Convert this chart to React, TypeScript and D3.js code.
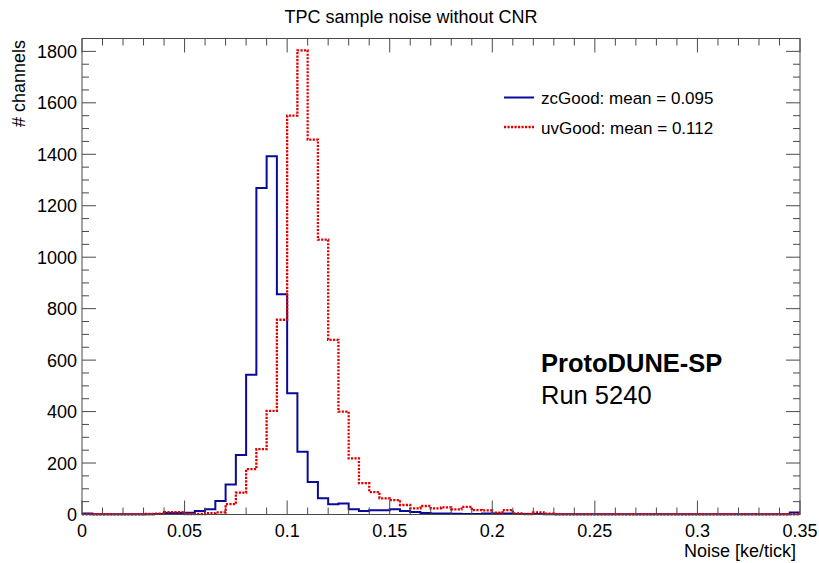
import React from "react";
import * as d3 from "d3";

const binEdges0 = 0;
const binWidth = 0.005;
const zcGood = [
  4, 1, 1, 1, 1, 1, 1, 2, 6, 6,
  7, 14, 20, 52, 117, 231, 543, 1269, 1392, 856,
  471, 244, 126, 63, 40, 43, 20, 14, 17, 17,
  20, 14, 10, 6, 4, 4, 3, 2, 2, 4,
  4, 4, 2, 2, 2, 1, 1, 1, 1, 1,
  1, 1, 1, 1, 1, 1, 1, 1, 1, 1,
  1, 1, 1, 1, 1, 1, 1, 1, 1, 8,
];
const uvGood = [
  1, 1, 1, 1, 1, 1, 2, 3, 9, 9,
  2, 2, 5, 8, 40, 85, 176, 254, 403, 757,
  1550, 1804, 1457, 1068, 679, 400, 218, 122, 87, 63,
  56, 37, 24, 33, 24, 28, 20, 30, 17, 16,
  7, 17, 4, 2, 8, 3, 1, 1, 1, 1,
  1, 1, 1, 1, 1, 1, 1, 1, 1, 1,
  1, 1, 1, 1, 1, 1, 1, 1, 1, 1,
];
const xTicks = [0, 0.05, 0.1, 0.15, 0.2, 0.25, 0.3, 0.35];
const yTicks = [0, 200, 400, 600, 800, 1000, 1200, 1400, 1600, 1800];
const legendLabels = ["zcGood: mean = 0.095", "uvGood: mean = 0.112"];

const W = 819, H = 563;
const L = 82, R = 800, T = 38.5, B = 514.5;
const FONT = "'Liberation Sans', Arial, Helvetica, sans-serif";
const AX = "#4a4a4a";
const BLUE = "#0a0a9a";
const RED = "#e00000";

export default function App() {
  const x = d3.scaleLinear().domain([0, 0.35]).range([L, R]);
  const y = d3.scaleLinear().domain([0, 1850]).range([B, T]);

  const stepPath = (vals: number[]) => {
    const pts: [number, number][] = vals.map((v, i) => [binEdges0 + i * binWidth, v]);
    pts.push([binEdges0 + vals.length * binWidth, vals[vals.length - 1]]);
    return d3.line<[number, number]>().x(d => x(d[0])).y(d => y(d[1])).curve(d3.curveStepAfter)(pts) || "";
  };

  const xMinor = d3.range(0, 0.3501, 0.01);
  const yMinor = d3.range(0, 1850, 50);

  return (
    <svg width={W} height={H} style={{ position: "absolute", left: 0, top: 0, background: "#fff" }} fontFamily={FONT}>
      <rect x={0} y={0} width={W} height={H} fill="#fff" />
      <text x={411} y={22.5} fontSize={18} textAnchor="middle" fill="#000">TPC sample noise without CNR</text>

      {/* histograms */}
      <path d={stepPath(zcGood)} fill="none" stroke={BLUE} strokeWidth={2} />
      <path d={stepPath(uvGood)} fill="none" stroke={RED} strokeWidth={2.3} strokeDasharray="2.2,1.3" />

      {/* frame */}
      <rect x={L} y={T} width={R - L} height={B - T} fill="none" stroke={AX} strokeWidth={1} />

      {/* x ticks */}
      {xMinor.map((v, i) => {
        const major = Math.abs(v / 0.05 - Math.round(v / 0.05)) < 1e-6;
        const len = major ? 14 : 7;
        return (
          <g key={"xt" + i}>
            <line x1={x(v)} x2={x(v)} y1={B} y2={B - len} stroke={AX} />
            <line x1={x(v)} x2={x(v)} y1={T} y2={T + len} stroke={AX} />
          </g>
        );
      })}
      {xTicks.map((v, i) => (
        <text key={"xl" + i} x={x(v)} y={537} fontSize={18} textAnchor="middle" fill="#000">{String(v)}</text>
      ))}

      {/* y ticks */}
      {yMinor.map((v, i) => {
        const major = v % 200 === 0;
        const len = major ? 14 : 7;
        return (
          <g key={"yt" + i}>
            <line x1={L} x2={L + len} y1={y(v)} y2={y(v)} stroke={AX} />
            <line x1={R} x2={R - len} y1={y(v)} y2={y(v)} stroke={AX} />
          </g>
        );
      })}
      {yTicks.map((v, i) => (
        <text key={"yl" + i} x={77} y={y(v) + 6.5} fontSize={18} textAnchor="end" fill="#000">{String(v)}</text>
      ))}

      {/* axis titles */}
      <text x={796} y={557} fontSize={18} textAnchor="end" fill="#000">Noise [ke/tick]</text>
      <text transform="translate(24.5,40) rotate(-90)" fontSize={18} textAnchor="end" fill="#000"># channels</text>

      {/* legend */}
      <line x1={504} x2={534} y1={97.5} y2={97.5} stroke={BLUE} strokeWidth={2} />
      <text x={541} y={104} fontSize={17} fill="#000">{legendLabels[0]}</text>
      <line x1={504} x2={534} y1={127} y2={127} stroke={RED} strokeWidth={2.3} strokeDasharray="2.2,1.3" />
      <text x={541} y={133.5} fontSize={17} fill="#000">{legendLabels[1]}</text>

      {/* annotation */}
      <text x={541} y={371.5} fontSize={25.5} fontWeight="bold" fill="#000">ProtoDUNE-SP</text>
      <text x={541} y={404} fontSize={25.5} fill="#000">Run 5240</text>
    </svg>
  );
}
